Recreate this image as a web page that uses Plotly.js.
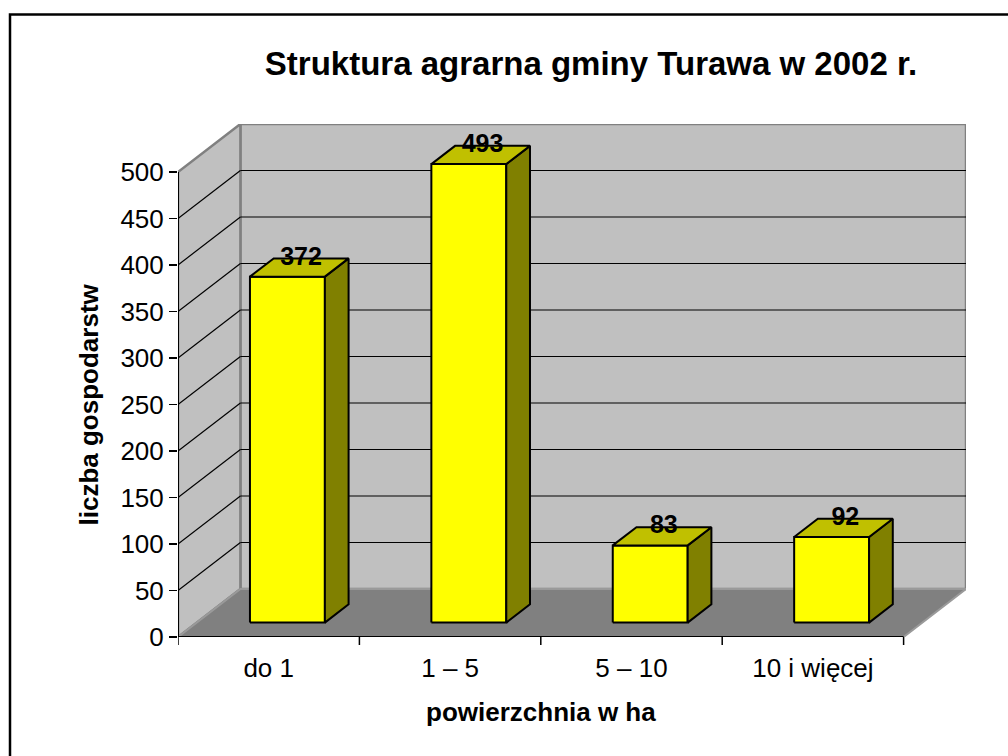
<!DOCTYPE html>
<html>
<head>
<meta charset="utf-8">
<script src="https://cdn.plot.ly/plotly-3.0.1.min.js"></script>
<style>
  html, body { margin: 0; padding: 0; background: #ffffff; }
  #chart { width: 1008px; height: 756px; }
</style>
</head>
<body>
<div id="chart"></div>
<script>
// ---- data ----
const categories = ['do 1', '1 – 5', '5 – 10', '10 i więcej'];
const values = [372, 493, 83, 92];
const yTickValues = [0, 50, 100, 150, 200, 250, 300, 350, 400, 450, 500];
const titleText = 'Struktura agrarna gminy Turawa w 2002 r.';
const xTitleText = 'powierzchnia w ha';
const yTitleText = 'liczba gospodarstw';

// ---- 3D look (axis units) ----
const YMAX = 500;
const DX = 0.344;   // depth offset along x (category units)
const DY = 51.6;    // depth offset along y (value units)
const F1 = 0.30, F2 = 0.68; // bar front / back depth fractions
const BW = 0.413;   // bar width (category units)
const N = categories.length;
const FONT = 'Liberation Sans, Arial, sans-serif';

const shapes = [];
// outer border (paper coords relative to plot area 178..966 x 124..637)
shapes.push({type: 'rect', xref: 'paper', yref: 'paper',
  x0: (10 - 178) / 788, x1: (1015 - 178) / 788,
  y0: (637 - 765) / 513, y1: (637 - 14.5) / 513,
  line: {color: '#000', width: 2.5}, fillcolor: 'rgba(0,0,0,0)', layer: 'below'});
// back wall
shapes.push({type: 'path', xref: 'x', yref: 'y', layer: 'below',
  path: `M ${DX},${DY} L ${N + DX},${DY} L ${N + DX},${YMAX + DY} L ${DX},${YMAX + DY} Z`,
  fillcolor: '#C0C0C0', line: {color: '#808080', width: 2.5}});
// left wall
shapes.push({type: 'path', xref: 'x', yref: 'y', layer: 'below',
  path: `M 0,0 L ${DX},${DY} L ${DX},${YMAX + DY} L 0,${YMAX} Z`,
  fillcolor: '#C0C0C0', line: {color: '#808080', width: 2.5}});
// floor
shapes.push({type: 'path', xref: 'x', yref: 'y', layer: 'below',
  path: `M 0,0 L ${N},0 L ${N + DX},${DY} L ${DX},${DY} Z`,
  fillcolor: '#808080', line: {color: '#9a9a9a', width: 2}});
// gridlines
yTickValues.forEach(v => {
  if (v === 0 || v === YMAX) return;
  shapes.push({type: 'line', xref: 'x', yref: 'y', layer: 'below',
    x0: 0, y0: v, x1: DX, y1: v + DY, line: {color: '#000', width: 1.2}});
  shapes.push({type: 'line', xref: 'x', yref: 'y', layer: 'below',
    x0: DX, y0: v + DY, x1: N + DX, y1: v + DY, line: {color: '#000', width: 1.2}});
});
// axis lines
shapes.push({type: 'line', xref: 'x', yref: 'y', layer: 'below',
  x0: 0, y0: 0, x1: 0, y1: YMAX, line: {color: '#000', width: 2}});
shapes.push({type: 'line', xref: 'x', yref: 'y', layer: 'below',
  x0: 0, y0: 0, x1: N, y1: 0, line: {color: '#000', width: 2}});
// x tick marks at category boundaries
for (let i = 0; i <= N; i++) {
  shapes.push({type: 'line', xref: 'x', yref: 'paper', layer: 'below',
    x0: i, x1: i, y0: 0, y1: -8 / 513, line: {color: '#000', width: 1.5}});
}

// ---- bars ----
const traces = [];
const ddx = (F2 - F1) * DX, ddy = (F2 - F1) * DY;
const labX = [], labY = [], labT = [];
values.forEach((v, i) => {
  const x0 = i + 0.5 - BW / 2 + F1 * DX, x1 = x0 + BW;
  const yb = F1 * DY, yt = v + F1 * DY;
  const common = {type: 'scatter', mode: 'lines', fill: 'toself',
    line: {color: '#000', width: 2}, hoverinfo: 'skip', showlegend: false};
  traces.push(Object.assign({}, common, {
    x: [x0, x1, x1, x0, x0], y: [yb, yb, yt, yt, yb], fillcolor: '#FFFF00'}));
  traces.push(Object.assign({}, common, {
    x: [x1, x1 + ddx, x1 + ddx, x1, x1], y: [yb, yb + ddy, yt + ddy, yt, yb], fillcolor: '#808000'}));
  traces.push(Object.assign({}, common, {
    x: [x0, x1, x1 + ddx, x0 + ddx, x0], y: [yt, yt, yt + ddy, yt + ddy, yt], fillcolor: '#C0C000'}));
  labX.push((x0 + x1) / 2 + ddx / 2 + 0.01);
  labY.push(yt + ddy);
  labT.push(String(v));
});
traces.push({type: 'scatter', mode: 'text', x: labX, y: labY, text: labT,
  textposition: 'middle center', hoverinfo: 'skip', showlegend: false,
  textfont: {family: FONT, size: 25, color: '#000', weight: 'bold'}});

const layout = {
  width: 1008, height: 756,
  margin: {l: 178, r: 42, t: 124, b: 119, pad: 0},
  paper_bgcolor: '#fff', plot_bgcolor: 'rgba(0,0,0,0)',
  showlegend: false,
  font: {family: FONT, color: '#000'},
  title: {text: '<b>' + titleText + '</b>', font: {family: FONT, size: 33, color: '#000'},
    xref: 'container', yref: 'container', x: 591 / 1008, xanchor: 'center',
    y: 1 - 63 / 756, yanchor: 'middle'},
  xaxis: {range: [0, N + DX], showgrid: false, zeroline: false, showline: false,
    tickvals: categories.map((c, i) => i + 0.5), ticktext: categories,
    ticks: 'outside', ticklen: 8, tickcolor: 'rgba(0,0,0,0)',
    tickfont: {family: FONT, size: 26, color: '#000'}, fixedrange: true},
  yaxis: {range: [0, YMAX + DY], showgrid: false, zeroline: false, showline: false,
    tickvals: yTickValues, ticktext: yTickValues.map(String),
    ticks: 'outside', ticklen: 8, tickwidth: 1.5, tickcolor: '#000',
    tickfont: {family: FONT, size: 26, color: '#000'}, fixedrange: true},
  shapes: shapes,
  annotations: [
    {text: '<b>' + xTitleText + '</b>', xref: 'x', yref: 'paper', x: N / 2, y: -(712 - 637) / 513,
      xanchor: 'center', yanchor: 'middle', showarrow: false,
      font: {family: FONT, size: 26, color: '#000'}},
    {text: '<b>' + yTitleText + '</b>', xref: 'paper', yref: 'y', x: (89 - 178) / 788, y: YMAX / 2,
      xanchor: 'center', yanchor: 'middle', showarrow: false, textangle: -90,
      font: {family: FONT, size: 26, color: '#000'}}
  ]
};

Plotly.newPlot('chart', traces, layout, {displayModeBar: false, staticPlot: true});
</script>
</body>
</html>
